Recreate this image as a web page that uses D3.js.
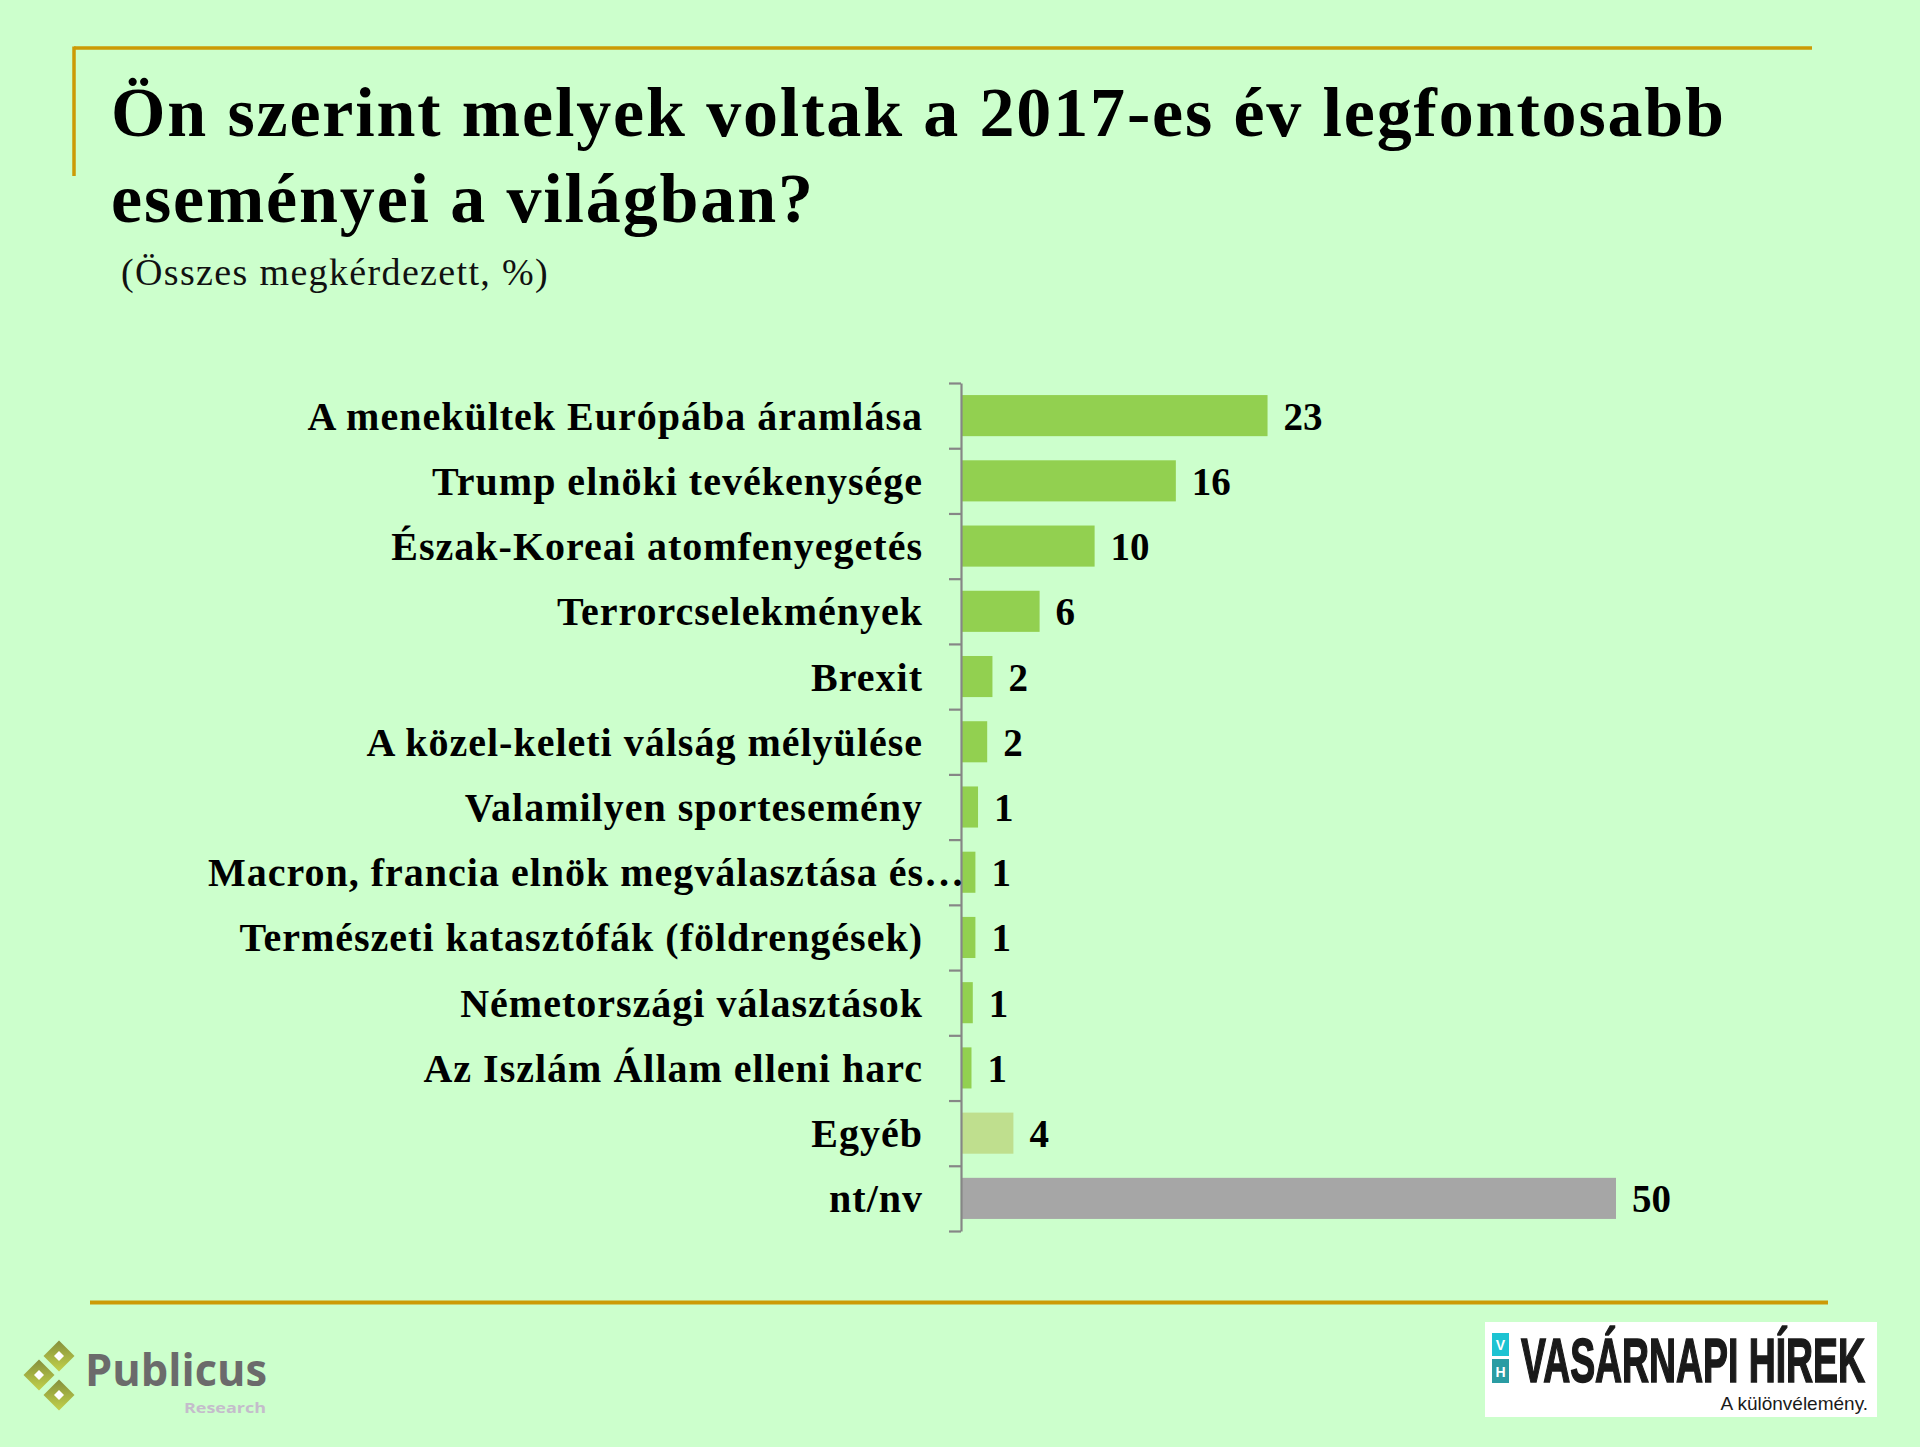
<!DOCTYPE html>
<html>
<head>
<meta charset="utf-8">
<script src="https://cdn.jsdelivr.net/npm/d3@7"></script>
<style>
  html, body { margin: 0; padding: 0; background: #CCFFCC; }
  svg { display: block; }
</style>
</head>
<body>
<script>
// ---- data ----
const titleLines = ["Ön szerint melyek voltak a 2017-es év legfontosabb", "eseményei a világban?"];
const subtitle = "(Összes megkérdezett, %)";
const categories = [
  "A menekültek Európába áramlása",
  "Trump elnöki tevékenysége",
  "Észak-Koreai atomfenyegetés",
  "Terrorcselekmények",
  "Brexit",
  "A közel-keleti válság mélyülése",
  "Valamilyen sportesemény",
  "Macron, francia elnök megválasztása és…",
  "Természeti katasztófák (földrengések)",
  "Németországi választások",
  "Az Iszlám Állam elleni harc",
  "Egyéb",
  "nt/nv"
];
const values = [23.4, 16.4, 10.2, 6.0, 2.4, 2.0, 1.3, 1.1, 1.1, 0.9, 0.8, 4.0, 50.0];
const xDomainMax = 50;

// ---- drawing ----
const W = 1920, H = 1447;
const svg = d3.select("body").append("svg").attr("width", W).attr("height", H);
svg.append("rect").attr("width", W).attr("height", H).attr("fill", "#CCFFCC");

const gold = "#CC9A06";
// decorative frame lines
svg.append("line").attr("x1", 74).attr("x2", 1812).attr("y1", 48).attr("y2", 48)
  .attr("stroke", gold).attr("stroke-width", 3.5);
svg.append("line").attr("x1", 74).attr("x2", 74).attr("y1", 46.5).attr("y2", 176)
  .attr("stroke", gold).attr("stroke-width", 3.5);
svg.append("line").attr("x1", 90).attr("x2", 1828).attr("y1", 1302.5).attr("y2", 1302.5)
  .attr("stroke", gold).attr("stroke-width", 4);

// title
const serif = "'Liberation Serif', 'Times New Roman', serif";
svg.append("g").selectAll("text").data(titleLines).join("text")
  .attr("x", 111).attr("y", (d, i) => 136 + i * 86)
  .attr("font-family", serif).attr("font-weight", "bold").attr("font-size", 70)
  .attr("letter-spacing", 1.85)
  .attr("fill", "#000").text(d => d);
svg.append("text").attr("x", 121).attr("y", 285)
  .attr("font-family", serif).attr("font-size", 38).attr("fill", "#111")
  .attr("letter-spacing", 1.35)
  .text(subtitle);

// scales
const axisX = 961;
const x = d3.scaleLinear().domain([0, xDomainMax]).range([axisX, axisX + 655]);
const y = d3.scaleBand().domain(categories).range([383, 1231]).paddingInner(0.37).paddingOuter(0.185);
const slot = d3.scaleLinear().domain([0, categories.length]).range([383, 1231]);

const color = d3.scaleOrdinal().domain(["Egyéb", "nt/nv"]).range(["#BFDF8E", "#A6A6A6"]).unknown("#92D050");

// bars
svg.append("g").selectAll("rect").data(categories).join("rect")
  .attr("x", axisX)
  .attr("y", d => y(d))
  .attr("width", (d, i) => x(values[i]) - axisX)
  .attr("height", y.bandwidth())
  .attr("fill", d => color(d));

// axis with ticks between categories
const axisG = svg.append("g").attr("transform", `translate(${axisX},0)`)
  .call(d3.axisLeft(slot).tickValues(d3.range(categories.length + 1)).tickFormat("").tickSize(12).tickSizeOuter(0));
axisG.selectAll("path, line").attr("stroke", "#868686").attr("stroke-width", 2.2);

// category labels
const labelSize = 40;
svg.append("g").selectAll("text").data(categories).join("text")
  .attr("x", d => d.endsWith("…") ? axisX + 4 : axisX - 38)
  .attr("y", d => y(d) + y.bandwidth() / 2 + 14)
  .attr("text-anchor", "end")
  .attr("font-family", serif).attr("font-weight", "bold").attr("font-size", labelSize)
  .attr("letter-spacing", 1)
  .attr("fill", "#000").text(d => d);

// value labels
const fmt = d3.format(".0f");
svg.append("g").selectAll("text").data(categories).join("text")
  .attr("x", (d, i) => x(values[i]) + 16)
  .attr("y", d => y(d) + y.bandwidth() / 2 + 14)
  .attr("font-family", serif).attr("font-weight", "bold").attr("font-size", 39)
  .attr("fill", "#000").text((d, i) => fmt(values[i]));

// ---- Publicus logo ----
const defs = svg.append("defs");
const grad = defs.append("linearGradient").attr("id", "dia").attr("x1", 0).attr("y1", 0).attr("x2", 0).attr("y2", 1);
grad.append("stop").attr("offset", "0%").attr("stop-color", "#858f3c");
grad.append("stop").attr("offset", "100%").attr("stop-color", "#c2d24a");
const diamonds = [[59, 1356], [39, 1375], [59, 1395]];
const lg = svg.append("g");
diamonds.forEach(([cx, cy]) => {
  const r = 15.5;
  lg.append("path").attr("d", `M${cx},${cy - r}L${cx + r},${cy}L${cx},${cy + r}L${cx - r},${cy}Z`).attr("fill", "url(#dia)");
  const s = 5;
  lg.append("path").attr("d", `M${cx},${cy - s}L${cx + s},${cy}L${cx},${cy + s}L${cx - s},${cy}Z`).attr("fill", "#fff");
});
lg.append("text").attr("x", 85).attr("y", 1386)
  .attr("font-family", "'Open Sans', sans-serif").attr("font-weight", "bold").attr("font-size", 44)
  .attr("fill", "#6b6b6b").attr("textLength", 182).attr("lengthAdjust", "spacingAndGlyphs").text("Publicus");
lg.append("text").attr("x", 184).attr("y", 1413)
  .attr("font-family", "'Open Sans', sans-serif").attr("font-weight", "bold").attr("font-size", 15)
  .attr("fill", "#c4bccb").attr("textLength", 82).attr("lengthAdjust", "spacingAndGlyphs").text("Research");

// ---- Vasárnapi Hírek logo ----
const vh = svg.append("g");
vh.append("rect").attr("x", 1485).attr("y", 1322).attr("width", 392).attr("height", 95).attr("fill", "#fff");
vh.append("rect").attr("x", 1492).attr("y", 1333).attr("width", 17).attr("height", 23).attr("fill", "#1DC3D2");
vh.append("rect").attr("x", 1492).attr("y", 1359).attr("width", 17).attr("height", 24).attr("fill", "#2A9CA3");
vh.append("text").attr("x", 1500.5).attr("y", 1350).attr("text-anchor", "middle")
  .attr("font-family", "'Liberation Sans', sans-serif").attr("font-weight", "bold").attr("font-size", 14)
  .attr("fill", "#fff").text("V");
vh.append("text").attr("x", 1500.5).attr("y", 1377).attr("text-anchor", "middle")
  .attr("font-family", "'Liberation Sans', sans-serif").attr("font-weight", "bold").attr("font-size", 14)
  .attr("fill", "#fff").text("H");
vh.append("text").attr("transform", "translate(1521,1382) scale(1,1.38)")
  .attr("font-family", "'Liberation Sans Narrow', 'Liberation Sans', sans-serif").attr("font-weight", "bold").attr("font-size", 45)
  .attr("fill", "#1a1a1a").attr("stroke", "#1a1a1a").attr("stroke-width", 1.2)
  .attr("textLength", 344).attr("lengthAdjust", "spacingAndGlyphs").text("VASÁRNAPI HÍREK");
vh.append("text").attr("x", 1868).attr("y", 1410).attr("text-anchor", "end")
  .attr("font-family", "'Liberation Sans Narrow', 'Liberation Sans', sans-serif").attr("font-size", 19)
  .attr("fill", "#1a1a1a").text("A különvélemény.");
</script>
</body>
</html>
